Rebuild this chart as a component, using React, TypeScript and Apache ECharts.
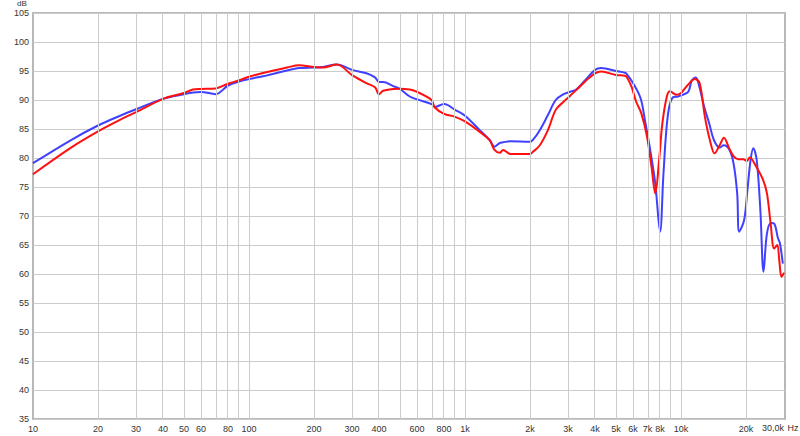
import React, { useEffect, useRef } from 'react';
import * as echarts from 'echarts';

// ---- data ----
const blueFreq = [10, 15, 20, 25, 30, 40, 50, 55, 60, 70, 80, 90, 100, 120, 150, 170, 200, 220, 255, 300, 350, 383, 400, 418, 465, 500, 555, 600, 700, 725, 800, 900, 1000, 1170, 1300, 1370, 1450, 1500, 1620, 2000, 2070, 2220, 2420, 2630, 2860, 3000, 3270, 3600, 4000, 4270, 5000, 5500, 5600, 6000, 6500, 6800, 7200, 7600, 8000, 8300, 8700, 9200, 9700, 10000, 10800, 11200, 11700, 12100, 12800, 13500, 14200, 15100, 15800, 16700, 17500, 18200, 18600, 19600, 20300, 21000, 21600, 22400, 23300, 24100, 25000, 26100, 27000, 28100, 28700, 29600];
const blueDb = [79.1, 83.1, 85.6, 87.2, 88.4, 90.2, 91.0, 91.3, 91.4, 91.0, 92.5, 93.2, 93.6, 94.2, 95.1, 95.5, 95.6, 95.7, 96.1, 95.2, 94.6, 93.9, 93.1, 93.1, 92.4, 91.9, 90.6, 90.1, 89.3, 88.8, 89.3, 88.3, 87.3, 84.8, 83.1, 81.95, 82.6, 82.7, 82.9, 82.8, 83.2, 84.8, 87.4, 90.0, 91.0, 91.3, 91.8, 93.4, 95.2, 95.5, 95.0, 94.7, 94.5, 92.9, 90.3, 86.6, 81.4, 75.6, 67.3, 77.5, 87.5, 90.5, 90.6, 90.8, 91.4, 93.3, 93.9, 92.6, 88.85, 86.0, 83.1, 81.8, 82.2, 81.5, 79.1, 73.9, 67.3, 69.3, 74.5, 79.7, 81.7, 79.7, 71.0, 60.4, 67.0, 68.8, 68.7, 66.2, 65.3, 61.8];

const redFreq = [10, 15, 20, 25, 30, 40, 50, 55, 60, 70, 80, 90, 100, 120, 150, 170, 200, 220, 255, 300, 350, 383, 400, 418, 465, 500, 555, 600, 700, 725, 800, 900, 1000, 1170, 1300, 1370, 1450, 1500, 1620, 2000, 2070, 2220, 2420, 2630, 2860, 3000, 3270, 3600, 4000, 4270, 5000, 5500, 5600, 5900, 6200, 6550, 6960, 7300, 7600, 7920, 8200, 8600, 8900, 9500, 10000, 10700, 11600, 12200, 12900, 13600, 14300, 15100, 15800, 16700, 17500, 18400, 19400, 20200, 20800, 22300, 24000, 25000, 26000, 27000, 27900, 28500, 29200, 30000];
const redDb = [77.2, 81.8, 84.6, 86.5, 87.9, 90.2, 91.2, 91.8, 91.9, 92.0, 92.8, 93.4, 94.0, 94.8, 95.6, 96.0, 95.7, 95.6, 96.1, 94.3, 92.9, 92.2, 91.0, 91.6, 91.9, 91.95, 91.8, 91.4, 90.0, 88.7, 87.6, 87.1, 86.3, 84.5, 83.1, 81.4, 80.9, 81.4, 80.7, 80.7, 81.1, 82.2, 84.8, 88.3, 89.7, 90.4, 91.7, 93.2, 94.6, 94.9, 94.3, 94.2, 94.0, 92.3, 89.7, 87.7, 83.7, 78.5, 73.9, 79.7, 86.0, 90.6, 91.5, 90.9, 91.2, 92.5, 93.6, 92.9, 87.1, 83.1, 80.8, 82.2, 83.5, 81.7, 80.3, 79.8, 79.8, 79.5, 80.1, 78.5, 76.2, 73.9, 68.7, 64.4, 65.0, 62.4, 59.5, 60.2];

const gridFreqs = [20, 30, 40, 50, 60, 70, 80, 90, 100, 200, 300, 400, 500, 600, 700, 800, 900, 1000, 2000, 3000, 4000, 5000, 6000, 7000, 8000, 9000, 10000, 20000];
const tickFreqs = [10, 20, 30, 40, 50, 60, 80, 100, 200, 300, 400, 600, 800, 1000, 2000, 3000, 4000, 5000, 6000, 7000, 8000, 10000, 20000];
const tickLabels = ['10', '20', '30', '40', '50', '60', '80', '100', '200', '300', '400', '600', '800', '1k', '2k', '3k', '4k', '5k', '6k', '7k', '8k', '10k', '20k'];
const lastTickLabel = '30,0k';
const xUnit = 'Hz';
const yUnit = 'dB';
const xMinHz = 10;
const xMaxHz = 30300;
const yMin = 35;
const yMax = 105;
const yStep = 5;

const lg = (f: number) => Math.log10(f);

export default function App() {
  const ref = useRef<HTMLDivElement>(null);
  useEffect(() => {
    if (!ref.current) return;
    const chart = echarts.init(ref.current, undefined, { renderer: 'svg' });
    const font = 'Liberation Sans, Arial, sans-serif';
    const tickLogs = tickFreqs.map(lg);
    chart.setOption({
      animation: false,
      backgroundColor: '#ffffff',
      grid: {
        left: 33, top: 13, right: 15, bottom: 17,
        containLabel: false,
        outerBoundsMode: 'none',
        show: true,
        borderColor: '#b8b8b8',
        borderWidth: 2,
      },
      xAxis: {
        type: 'value',
        min: lg(xMinHz),
        max: lg(xMaxHz),
        axisLine: { show: false },
        axisTick: { show: false },
        splitLine: { show: false },
        axisLabel: {
          customValues: tickLogs,
          margin: 5,
          fontSize: 9,
          fontFamily: font,
          color: '#333',
          formatter: (v: number) => {
            const i = tickLogs.findIndex((t) => Math.abs(t - v) < 1e-6);
            return i >= 0 ? tickLabels[i] : '';
          },
        },
      },
      yAxis: {
        type: 'value',
        min: yMin,
        max: yMax,
        interval: yStep,
        axisLine: { show: false },
        axisTick: { show: false },
        splitLine: { show: true, lineStyle: { color: '#cccccc', width: 1 } },
        axisLabel: { margin: 4, fontSize: 9, fontFamily: font, color: '#333' },
      },
      graphic: [
        { type: 'text', x: 22, y: 3, style: { text: yUnit, fontSize: 8, fontFamily: font, fill: '#333', align: 'center', verticalAlign: 'middle' } },
        { type: 'text', x: 773, y: 428, style: { text: lastTickLabel, fontSize: 9, fontFamily: font, fill: '#333', align: 'center', verticalAlign: 'middle' } },
        { type: 'text', x: 793, y: 428, style: { text: xUnit, fontSize: 9, fontFamily: font, fill: '#333', align: 'center', verticalAlign: 'middle' } },
      ],
      series: [
        {
          type: 'line',
          data: [],
          z: 1,
          silent: true,
          markLine: {
            silent: true,
            symbol: ['none', 'none'],
            label: { show: false },
            lineStyle: { color: '#cccccc', width: 1, type: 'solid' },
            data: gridFreqs.map((f) => ({ xAxis: lg(f) })),
          },
        },
        {
          type: 'line',
          z: 3,
          showSymbol: false,
          smooth: 0.35,
          lineStyle: { color: '#4040ff', width: 2 },
          itemStyle: { color: '#4040ff' },
          data: blueFreq.map((f, i) => [lg(f), blueDb[i]]),
        },
        {
          type: 'line',
          z: 4,
          showSymbol: false,
          smooth: 0.35,
          lineStyle: { color: '#ff1010', width: 2 },
          itemStyle: { color: '#ff1010' },
          data: redFreq.map((f, i) => [lg(f), redDb[i]]),
        },
      ],
    });
    return () => chart.dispose();
  }, []);
  return <div ref={ref} style={{ position: 'fixed', left: 0, top: 0, width: 800, height: 436 }} />;
}
